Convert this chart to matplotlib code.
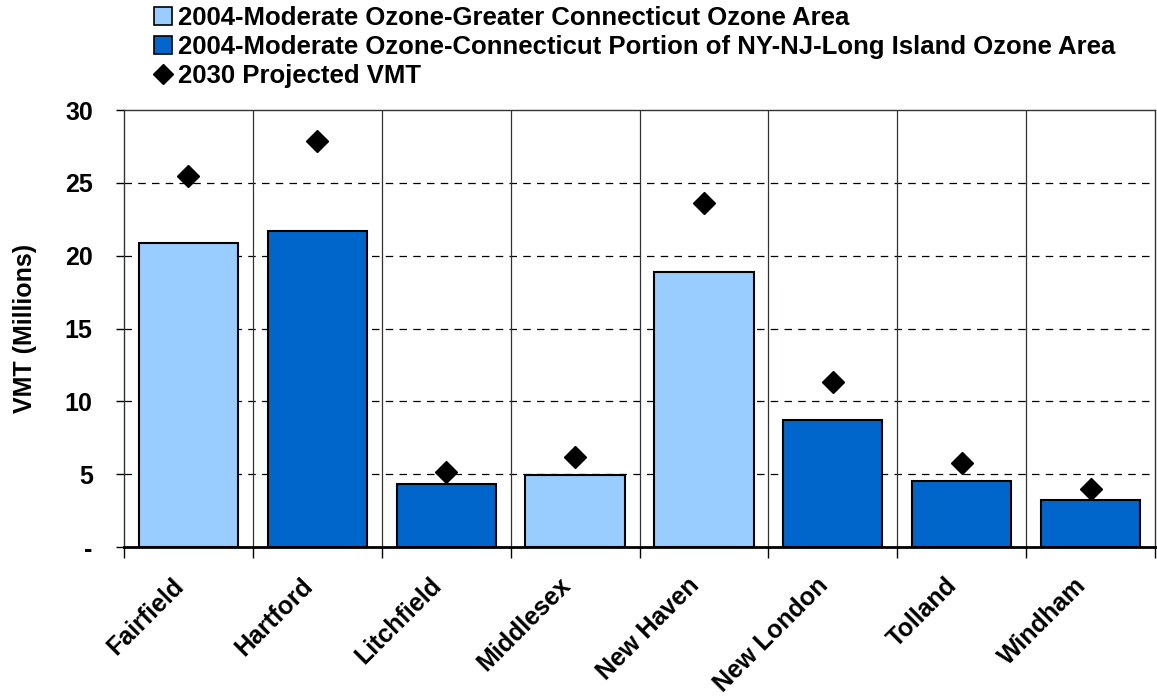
import matplotlib
matplotlib.use("Agg")
import matplotlib.pyplot as plt
import numpy as np
from matplotlib.lines import Line2D
from matplotlib.patches import Patch

counties = ["Fairfield", "Hartford", "Litchfield", "Middlesex", "New Haven",
            "New London", "Tolland", "Windham"]
vmt_2004 = [20.85, 21.7, 4.3, 4.95, 18.85, 8.75, 4.5, 3.2]
area = ["G", "N", "N", "G", "G", "N", "N", "N"]  # G = Greater CT, N = NY-NJ-LI portion
vmt_2030 = [25.45, 27.85, 5.15, 6.15, 23.6, 11.3, 5.8, 3.95]

series_names = ["2004-Moderate Ozone-Greater Connecticut Ozone Area",
                "2004-Moderate Ozone-Connecticut Portion of NY-NJ-Long Island Ozone Area",
                "2030 Projected VMT"]
yticks = [0, 5, 10, 15, 20, 25, 30]
ytick_labels = ["-", "5", "10", "15", "20", "25", "30"]

light = "#99CCFF"
dark = "#0066CC"

plt.rcParams['font.family'] = ['Liberation Sans', 'DejaVu Sans']
plt.rcParams['font.weight'] = 'bold'

fig = plt.figure(figsize=(11.57, 7.0), dpi=100)
ax = fig.add_axes([124/1157, 1 - 547/700, (1155-124)/1157, (547-110)/700])

x = np.arange(len(counties))
g_vals = [v if a == "G" else np.nan for v, a in zip(vmt_2004, area)]
n_vals = [v if a == "N" else np.nan for v, a in zip(vmt_2004, area)]
ax.bar(x, g_vals, width=0.77, color=light, edgecolor="black", linewidth=1.5, zorder=3)
ax.bar(x, n_vals, width=0.77, color=dark, edgecolor="black", linewidth=1.5, zorder=3)
ax.plot(x, vmt_2030, linestyle="none", marker="D", markersize=11, color="black", zorder=4)

ax.set_xlim(-0.5, len(counties) - 0.5)
ax.set_ylim(0, 30)
ax.set_yticks(yticks)
ax.set_yticklabels(ytick_labels, fontsize=18, fontweight='bold')
ax.set_xticks(x)
ax.set_xticklabels(counties, rotation=45, ha="right", va="top", fontsize=18, fontweight='bold')
ax.tick_params(axis='x', length=0, pad=19)
ax.set_xticks(np.arange(-0.5, len(counties)), minor=True)
ax.tick_params(axis='x', which='minor', length=8, width=1, direction='out')
ax.tick_params(axis='y', length=6, width=1, direction='out', pad=16.5)

for yv in yticks[1:-1]:
    ax.axhline(yv, color="black", linestyle=(0, (6, 5)), linewidth=0.9, zorder=1)
for xv in np.arange(0.5, len(counties) - 0.5):
    ax.axvline(xv, color="#333333", linewidth=0.9, zorder=1)

for s in ax.spines.values():
    s.set_linewidth(1.0)
    s.set_color("#333333")
ax.spines['bottom'].set_linewidth(2.0)
ax.spines['bottom'].set_color("black")

ax.set_ylabel("VMT (Millions)", fontsize=18, fontweight='bold', labelpad=20)

handles = [Patch(facecolor=light, edgecolor="black", linewidth=1.2),
           Patch(facecolor=dark, edgecolor="black", linewidth=1.2),
           Line2D([], [], linestyle="none", marker="D", color="black", markersize=10)]
fig.legend(handles, series_names, loc="upper left", bbox_to_anchor=(154/1157, 1 - 6/700),
           frameon=False, handlelength=0.7, handleheight=0.7,
           handletextpad=0.25, labelspacing=0.19, borderaxespad=0, borderpad=0,
           prop={'weight': 'bold', 'size': 18.5})

fig.savefig("out.png", dpi=100)
